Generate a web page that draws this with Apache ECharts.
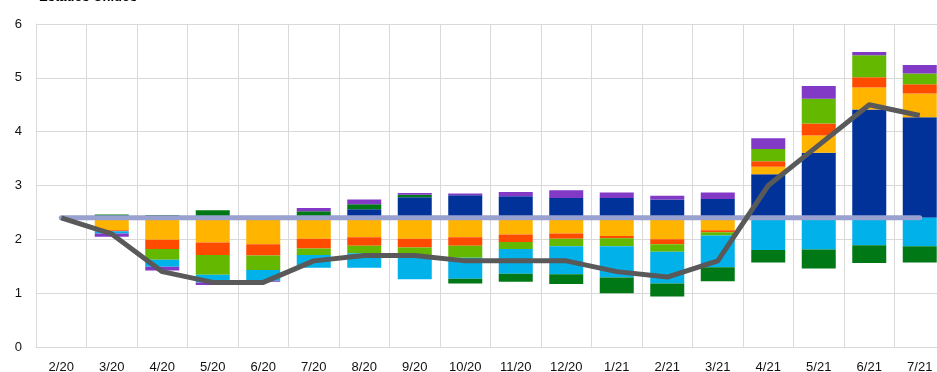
<!DOCTYPE html>
<html>
<head>
<meta charset="utf-8">
<script src="https://cdn.jsdelivr.net/npm/echarts@6/dist/echarts.min.js"></script>
<style>
html,body{margin:0;padding:0;background:#fff;}
#chart{width:937px;height:372px;}
</style>
</head>
<body>
<div id="chart"></div>
<script>
const categories = ['2/20','3/20','4/20','5/20','6/20','7/20','8/20','9/20','10/20','11/20','12/20','1/21','2/21','3/21','4/21','5/21','6/21','7/21'];
const baseline = 2.4;
const darkBlue  = [0,0,0,0,0,0,0.16,0.38,0.42,0.40,0.37,0.37,0.34,0.35,0.81,1.21,2.01,1.87];
const darkGreen = [0,0.06,0.05,0.14,0,0.12,0.09,0.05,-0.09,-0.15,-0.18,-0.29,-0.24,-0.26,-0.23,-0.35,-0.33,-0.30];
const yellow    = [0,-0.23,-0.41,-0.46,-0.49,-0.39,-0.36,-0.39,-0.36,-0.31,-0.29,-0.34,-0.40,-0.23,0.14,0.32,0.41,0.44];
const red       = [0,-0.02,-0.17,-0.23,-0.21,-0.18,-0.16,-0.16,-0.16,-0.14,-0.10,-0.04,-0.09,-0.04,0.10,0.22,0.19,0.17];
const green     = [0,0,-0.20,-0.37,-0.27,-0.12,-0.14,-0.14,-0.22,-0.13,-0.14,-0.15,-0.14,-0.06,0.23,0.46,0.41,0.20];
const lightBlue = [0,-0.04,-0.13,-0.14,-0.20,-0.24,-0.27,-0.45,-0.39,-0.46,-0.52,-0.58,-0.59,-0.59,-0.60,-0.59,-0.51,-0.53];
const purple    = [0,-0.06,-0.07,-0.05,-0.02,0.06,0.09,0.03,0.03,0.08,0.14,0.10,0.07,0.12,0.20,0.24,0.06,0.16];
const total     = [2.4,2.1,1.4,1.2,1.2,1.6,1.7,1.7,1.6,1.6,1.6,1.4,1.3,1.6,3.0,3.75,4.5,4.3];
const yTicks = [0,1,2,3,4,5,6];

const colors = {
  darkBlue:'#003299', lightBlue:'#00b1ea', darkGreen:'#007816',
  yellow:'#ffb400', red:'#ff4b00', green:'#65b800', purple:'#8139c6'
};
const comps = {darkBlue, lightBlue, darkGreen, yellow, red, green, purple};
const posOrder = ['darkBlue','darkGreen','yellow','red','green','purple'];
const negOrder = ['yellow','red','green','lightBlue','darkGreen','purple'];

const series = [];
const barCommon = {type:'bar', barWidth:34, barGap:'-100%', silent:true};
series.push(Object.assign({}, barCommon, {name:'posBase', stack:'pos', data:categories.map(()=>baseline), itemStyle:{color:'rgba(0,0,0,0)'}}));
posOrder.forEach(k=>{
  series.push(Object.assign({}, barCommon, {name:k+'+', stack:'pos', data:comps[k].map(v=>v>0?v:0), itemStyle:{color:colors[k]}}));
});
series.push(Object.assign({}, barCommon, {name:'negBase', stack:'neg', stackStrategy:'all', data:categories.map(()=>baseline), itemStyle:{color:'rgba(0,0,0,0)'}}));
negOrder.forEach(k=>{
  series.push(Object.assign({}, barCommon, {name:k+'-', stack:'neg', stackStrategy:'all', data:comps[k].map(v=>v<0?v:0), itemStyle:{color:colors[k]}}));
});
series.push({type:'line', name:'base', data:categories.map(()=>baseline), symbol:'none', silent:true, z:5,
  lineStyle:{color:'#98a1d0', width:5, cap:'round'}});
series.push({type:'line', name:'total', data:total, symbol:'none', silent:true, z:6,
  lineStyle:{color:'#595959', width:5, join:'round'}});

const chart = echarts.init(document.getElementById('chart'), null, {renderer:'canvas'});
chart.setOption({
  animation:false,
  title:{text:'Estados Unidos', left:34, top:-14, textStyle:{fontFamily:'Liberation Sans, Arial', fontSize:13, fontWeight:'bold', color:'#000'}},
  grid:{left:36, right:-8, top:24, bottom:25, containLabel:false, outerBoundsMode:'none'},
  xAxis:{type:'category', data:categories, boundaryGap:true,
    axisLine:{show:true, lineStyle:{color:'#d9d9d9', width:1}},
    axisTick:{show:false},
    axisLabel:{fontFamily:'Liberation Sans, Arial', fontSize:13, color:'#111', margin:14, interval:0},
    splitLine:{show:true, interval:0, lineStyle:{color:'#d9d9d9', width:1}}
  },
  yAxis:{type:'value', min:yTicks[0], max:yTicks[yTicks.length-1], interval:1,
    axisLine:{show:true, lineStyle:{color:'#d9d9d9', width:1}},
    axisTick:{show:false},
    axisLabel:{fontFamily:'Liberation Sans, Arial', fontSize:13, color:'#111', margin:14},
    splitLine:{show:true, lineStyle:{color:'#d9d9d9', width:1}}
  },
  series
});
</script>
</body>
</html>
